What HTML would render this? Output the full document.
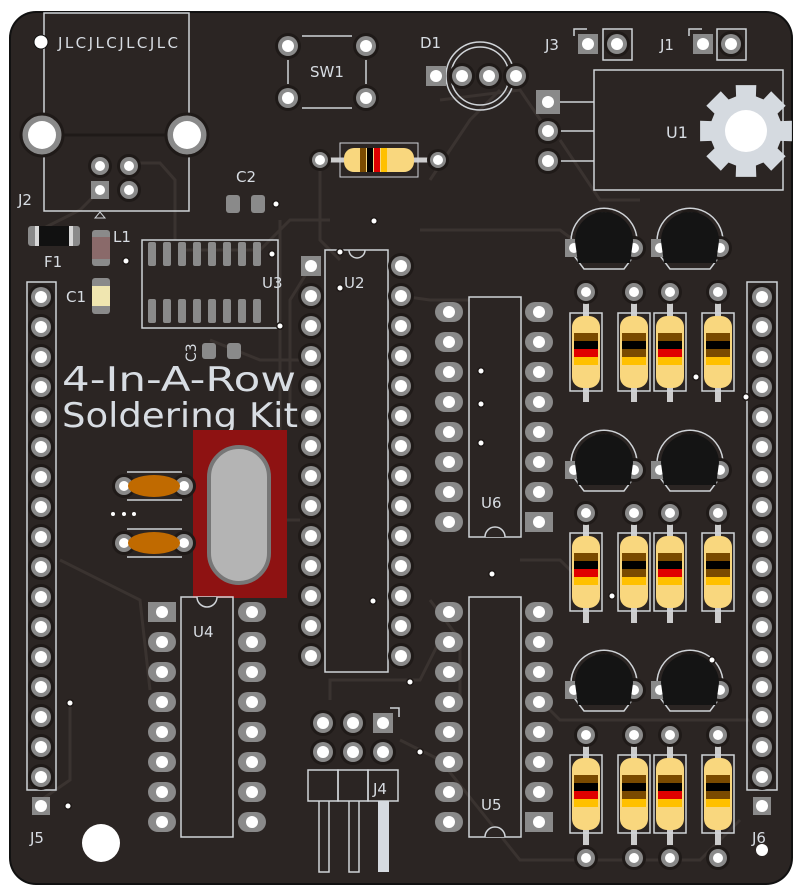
<!DOCTYPE html>
<html><head><meta charset="utf-8"><style>
html,body{margin:0;padding:0;background:#fff;}
svg{display:block;}
text{font-family:"DejaVu Sans","Liberation Sans",sans-serif;fill:#d8dde3;}
</style></head><body>
<svg id="s" width="804" height="894" viewBox="0 0 804 894" xmlns="http://www.w3.org/2000/svg">
<defs>
<clipPath id="bc"><rect x="10" y="12" width="782" height="872" rx="26"/></clipPath>
</defs>
<rect x="9" y="11" width="784" height="874" rx="27" fill="#111"/>
<rect x="11" y="13" width="780" height="870" rx="25" fill="#2b2523"/>
<g id="tr" fill="none" stroke="#3a3330" stroke-width="3"></g>
<g id="g"></g>
</svg>
<script>
const g=document.getElementById('g'),tr=document.getElementById('tr');
const NS='http://www.w3.org/2000/svg';
function el(t,a,p){const e=document.createElementNS(NS,t);for(const k in a)e.setAttribute(k,a[k]);(p||g).appendChild(e);return e;}
function txt(x,y,s,fs,extra){const e=el('text',Object.assign({x,y,'font-size':fs||15},extra||{}));e.textContent=s;return e;}
const OL='#d0d4d8';
function rp(x,y,r,h){r=r||10;h=h||6;el('circle',{cx:x,cy:y,r:r+3,fill:'#1f1a18'});el('circle',{cx:x,cy:y,r:r,fill:'#8a8a8a'});el('circle',{cx:x,cy:y,r:h,fill:'#fff'});}
function sp(x,y,s,h){s=s||20;h=h||6;el('rect',{x:x-s/2,y:y-s/2,width:s,height:s,fill:'#8a8a8a'});el('circle',{cx:x,cy:y,r:h,fill:'#fff'});}
function op(x,y){el('rect',{x:x-14,y:y-10,width:28,height:20,rx:10,fill:'#8a8a8a'});el('circle',{cx:x,cy:y,r:6,fill:'#fff'});}
function box(x,y,w,h){el('rect',{x,y,width:w,height:h,fill:'none',stroke:OL,'stroke-width':1.5});}
function line(pts,c,w){el('polyline',{points:pts,fill:'none',stroke:c||OL,'stroke-width':w||1.5});}
function via(x,y){el('circle',{cx:x,cy:y,r:4,fill:'#1f1a18'});el('circle',{cx:x,cy:y,r:2.5,fill:'#fff'});}
[[ "41,800 70,780 70,700" ],["100,190 80,210 40,230"],["129,163 160,163 175,180 175,240"],["311,266 290,300 290,420"],["401,296 430,300 470,300"],["440,100 520,90 548,131"],["180,250 260,250 290,220 330,220"],["330,700 330,680 420,680 440,640"],["520,560 560,560 600,600"],["430,600 460,640 460,700"],["400,740 440,760 520,860 700,860 740,820"],["540,700 560,720 750,720"],["225,520 300,520"],["60,560 140,600 150,690"],["280,220 280,540"],["420,230 560,230 600,260"],["560,140 600,200 640,200"],["320,160 320,240 340,260"],["500,90 470,120 430,180"],["210,340 260,360 300,360"]].forEach(p=>el('polyline',{points:p[0]},tr));
// J2
box(44,13,145,198);
el('circle',{cx:41,cy:42,r:7,fill:'#fff',stroke:'#111'});
txt(58,48,'JLCJLCJLCJLC',15,{textLength:120});
[[42,135],[187,135]].forEach(([x,y])=>{el('circle',{cx:x,cy:y,r:21,fill:'#8a8a8a',stroke:'#1f1a18','stroke-width':3});el('circle',{cx:x,cy:y,r:14,fill:'#fff'});});
line('63,135 166,135','#1f1a18',3);
rp(100,166,9,5);rp(129,166,9,5);sp(100,190,18,5);rp(129,190,9,5);
txt(18,205,'J2',15);
el('polygon',{points:'95,218 105,218 100,212',fill:'none',stroke:OL});
el('rect',{x:28,y:226,width:52,height:20,rx:3,fill:'#8a8a8a'});el('rect',{x:35,y:226,width:38,height:20,fill:'#d8d8d8'});el('rect',{x:39,y:226,width:30,height:20,fill:'#111'});
txt(44,267,'F1',15);
el('rect',{x:92,y:230,width:18,height:36,rx:3,fill:'#8a8a8a'});el('rect',{x:92,y:237,width:18,height:22,fill:'#8a6a6a'});
txt(113,242,'L1',15);
el('rect',{x:92,y:278,width:18,height:36,rx:3,fill:'#8a8a8a'});el('rect',{x:92,y:286,width:18,height:20,fill:'#f0e6b0'});
txt(66,302,'C1',15);via(126,261);
txt(236,182,'C2',15);
el('rect',{x:226,y:195,width:14,height:18,rx:3,fill:'#8a8a8a'});el('rect',{x:251,y:195,width:14,height:18,rx:3,fill:'#8a8a8a'});via(276,204);
box(142,240,136,88);
for(let i=0;i<8;i++){const x=148+i*15;el('rect',{x,y:242,width:8,height:24,rx:2,fill:'#8a8a8a'});el('rect',{x,y:299,width:8,height:24,rx:2,fill:'#8a8a8a'});}
txt(262,288,'U3',15);via(272,254);via(280,326);
el('rect',{x:202,y:343,width:14,height:16,rx:3,fill:'#8a8a8a'});el('rect',{x:227,y:343,width:14,height:16,rx:3,fill:'#8a8a8a'});
txt(0,0,'C3',14,{transform:'translate(196,362) rotate(-90)'});
txt(62,391,'4-In-A-Row',34,{textLength:234,lengthAdjust:'spacingAndGlyphs'});
txt(62,427,'Soldering Kit',34,{textLength:236,lengthAdjust:'spacingAndGlyphs'});
el('rect',{x:193,y:430,width:94,height:168,fill:'#8e1212'});
el('rect',{x:209,y:447,width:60,height:136,rx:30,fill:'#b4b4b4',stroke:'#777','stroke-width':4});
[486,543].forEach(y=>{line('127,'+(y-14)+' 182,'+(y-14));line('127,'+(y+14)+' 182,'+(y+14));rp(124,y,9,5);rp(184,y,9,5);el('ellipse',{cx:154,cy:y,rx:26,ry:11,fill:'#c06a00'});});
[113,124,134].forEach(x=>el('circle',{cx:x,cy:514,r:2,fill:'#fff'}));
box(27,282,29,508);box(747,282,30,508);
for(let i=0;i<17;i++){rp(41,297+i*30);rp(762,297+i*30);}
sp(41,806,18);sp(762,806,18);txt(30,843,'J5',15);txt(752,843,'J6',15);
el('circle',{cx:101,cy:843,r:19,fill:'#fff'});el('circle',{cx:762,cy:850,r:6,fill:'#fff'});
line('302,36 352,36');line('302,108 352,108');line('288,60 288,84');line('366,60 366,84');
rp(288,46);rp(366,46);rp(288,98);rp(366,98);txt(310,77,'SW1',15);
el('circle',{cx:480,cy:76,r:34,fill:'none',stroke:OL,'stroke-width':1.5});el('circle',{cx:480,cy:76,r:29,fill:'none',stroke:OL,'stroke-width':1.5});
sp(436,76,20);rp(462,76);rp(489,76);rp(516,76);txt(420,48,'D1',15);
txt(545,50,'J3',15);sp(588,44,20);rp(617,44);box(603,29,29,31);line('574,36 574,29 587,29');
txt(660,50,'J1',15);sp(703,44,20);rp(731,44);box(717,29,29,31);line('689,36 689,29 702,29');
box(594,70,189,120);
line('560,102 594,102');line('560,131 594,131');line('560,161 594,161');
sp(548,102,24);rp(548,131);rp(548,161);txt(666,138,'U1',16);
(function(){const cx=746,cy=131;let d='';const n=8;for(let i=0;i<n;i++){const a=i*2*Math.PI/n;const pts=[[-0.28,36],[-0.22,47],[0.22,47],[0.28,36],[0.5,36]];pts.forEach((p,j)=>{const r=p[1],b=a+p[0];d+=(i==0&&j==0?'M':'L')+(cx+r*Math.cos(b)).toFixed(1)+','+(cy+r*Math.sin(b)).toFixed(1);});}
d+='Z';el('path',{d,fill:'#d5dae0','clip-path':'url(#bc)'});el('circle',{cx,cy,r:21,fill:'#fff'});})();
line('320,160 438,160','#cccccc',5);rp(320,160,8,5);rp(438,160,8,5);
el('rect',{x:340,y:143,width:78,height:34,fill:'none',stroke:OL});
el('rect',{x:344,y:148,width:70,height:24,rx:10,fill:'#f9d77e'});
[[360,'#7a4a00'],[367,'#000'],[374,'#e00000'],[381,'#ffc000']].forEach(([x,c])=>el('rect',{x,y:148,width:6,height:24,fill:c}));
via(374,221);
box(325,250,63,422);el('path',{d:'M349,250 a8,8 0 0 0 16,0',fill:'none',stroke:OL,'stroke-width':1.5});
for(let i=0;i<14;i++){const y=266+i*30;if(i==0)sp(311,y,20);else rp(311,y);rp(401,y);}
txt(344,288,'U2',15);via(340,252);via(340,288);via(373,601);
function dip8(x0,x1,ox,y0,lbl,ly,sqLeftTop,notchBottom){
 box(ox,y0-15,52,240);
 if(notchBottom)el('path',{d:`M${ox+16},${y0+225} a10,10 0 0 1 20,0`,fill:'#2b2523',stroke:OL,'stroke-width':1.5});
 else el('path',{d:`M${ox+16},${y0-15} a10,10 0 0 0 20,0`,fill:'#2b2523',stroke:OL,'stroke-width':1.5});
 for(let i=0;i<8;i++){const y=y0+i*30;
  if(sqLeftTop&&i==0){el('rect',{x:x0-14,y:y-10,width:28,height:20,fill:'#8a8a8a'});el('circle',{cx:x0,cy:y,r:6,fill:'#fff'});}else op(x0,y);
  if(!sqLeftTop&&i==7){el('rect',{x:x1-14,y:y-10,width:28,height:20,fill:'#8a8a8a'});el('circle',{cx:x1,cy:y,r:6,fill:'#fff'});}else op(x1,y);}
 txt(ox+12,ly,lbl,15);
}
dip8(449,539,469,312,'U6',508,false,true);
dip8(449,539,469,612,'U5',810,false,true);
dip8(162,252,181,612,'U4',637,true,false);
via(481,371);via(481,404);via(481,443);via(492,574);via(410,682);via(420,752);via(70,703);via(68,806);
[[604,243],[690,243],[604,465],[690,465],[604,685],[690,685]].forEach(([x,y])=>{
 el('path',{d:`M${x-20},${y+26} L${x+20},${y+26} L${x+29},${y+14} A33,33 0 1 0 ${x-29},${y+14} Z`,fill:'none',stroke:OL,'stroke-width':1.5});
 sp(x-30,y+5,18,5);rp(x+30,y+5,9,5);rp(x,y-22,9,5);
 el('path',{d:`M${x-26},${y+20} L${x+26},${y+20} L${x+29},${y-2} A29,29 0 0 0 ${x-29},${y-2} Z`,fill:'#141414'});
});
const cols=[586,634,670,718];
[[292,313],[513,533],[735,755]].forEach(([py,by])=>{
 cols.forEach((x,ci)=>{
  line(x+','+py+' '+x+','+(py+110),'#cccccc',6);
  rp(x,py,9,5);
  el('rect',{x:x-16,y:by,width:32,height:78,fill:'none',stroke:OL,'stroke-width':1.5});
  el('rect',{x:x-14,y:by+3,width:28,height:72,rx:11,fill:'#f9d77e'});
  const mid=(ci==0||ci==2)?'#e00000':'#7a4a00';
  [[by+20,'#7a4a00'],[by+28,'#000'],[by+36,mid],[by+44,'#ffc000']].forEach(([y,c])=>el('rect',{x:x-12,y,width:24,height:8,fill:c}));
 });
});
cols.forEach(x=>rp(x,858,9,5));via(696,377);via(746,397);via(612,596);via(712,660);
[323,353].forEach(x=>{rp(x,723);rp(x,752);});sp(383,723,20);rp(383,752);
line('390,708 399,708 399,717');
box(308,770,30,31);box(338,770,30,31);box(368,770,30,31);
line('319,801 319,872 329,872 329,801');line('349,801 349,872 359,872 359,801');
el('rect',{x:378,y:801,width:11,height:71,fill:'#d5dae0'});
txt(373,794,'J4',15);
</script>
</body></html>
